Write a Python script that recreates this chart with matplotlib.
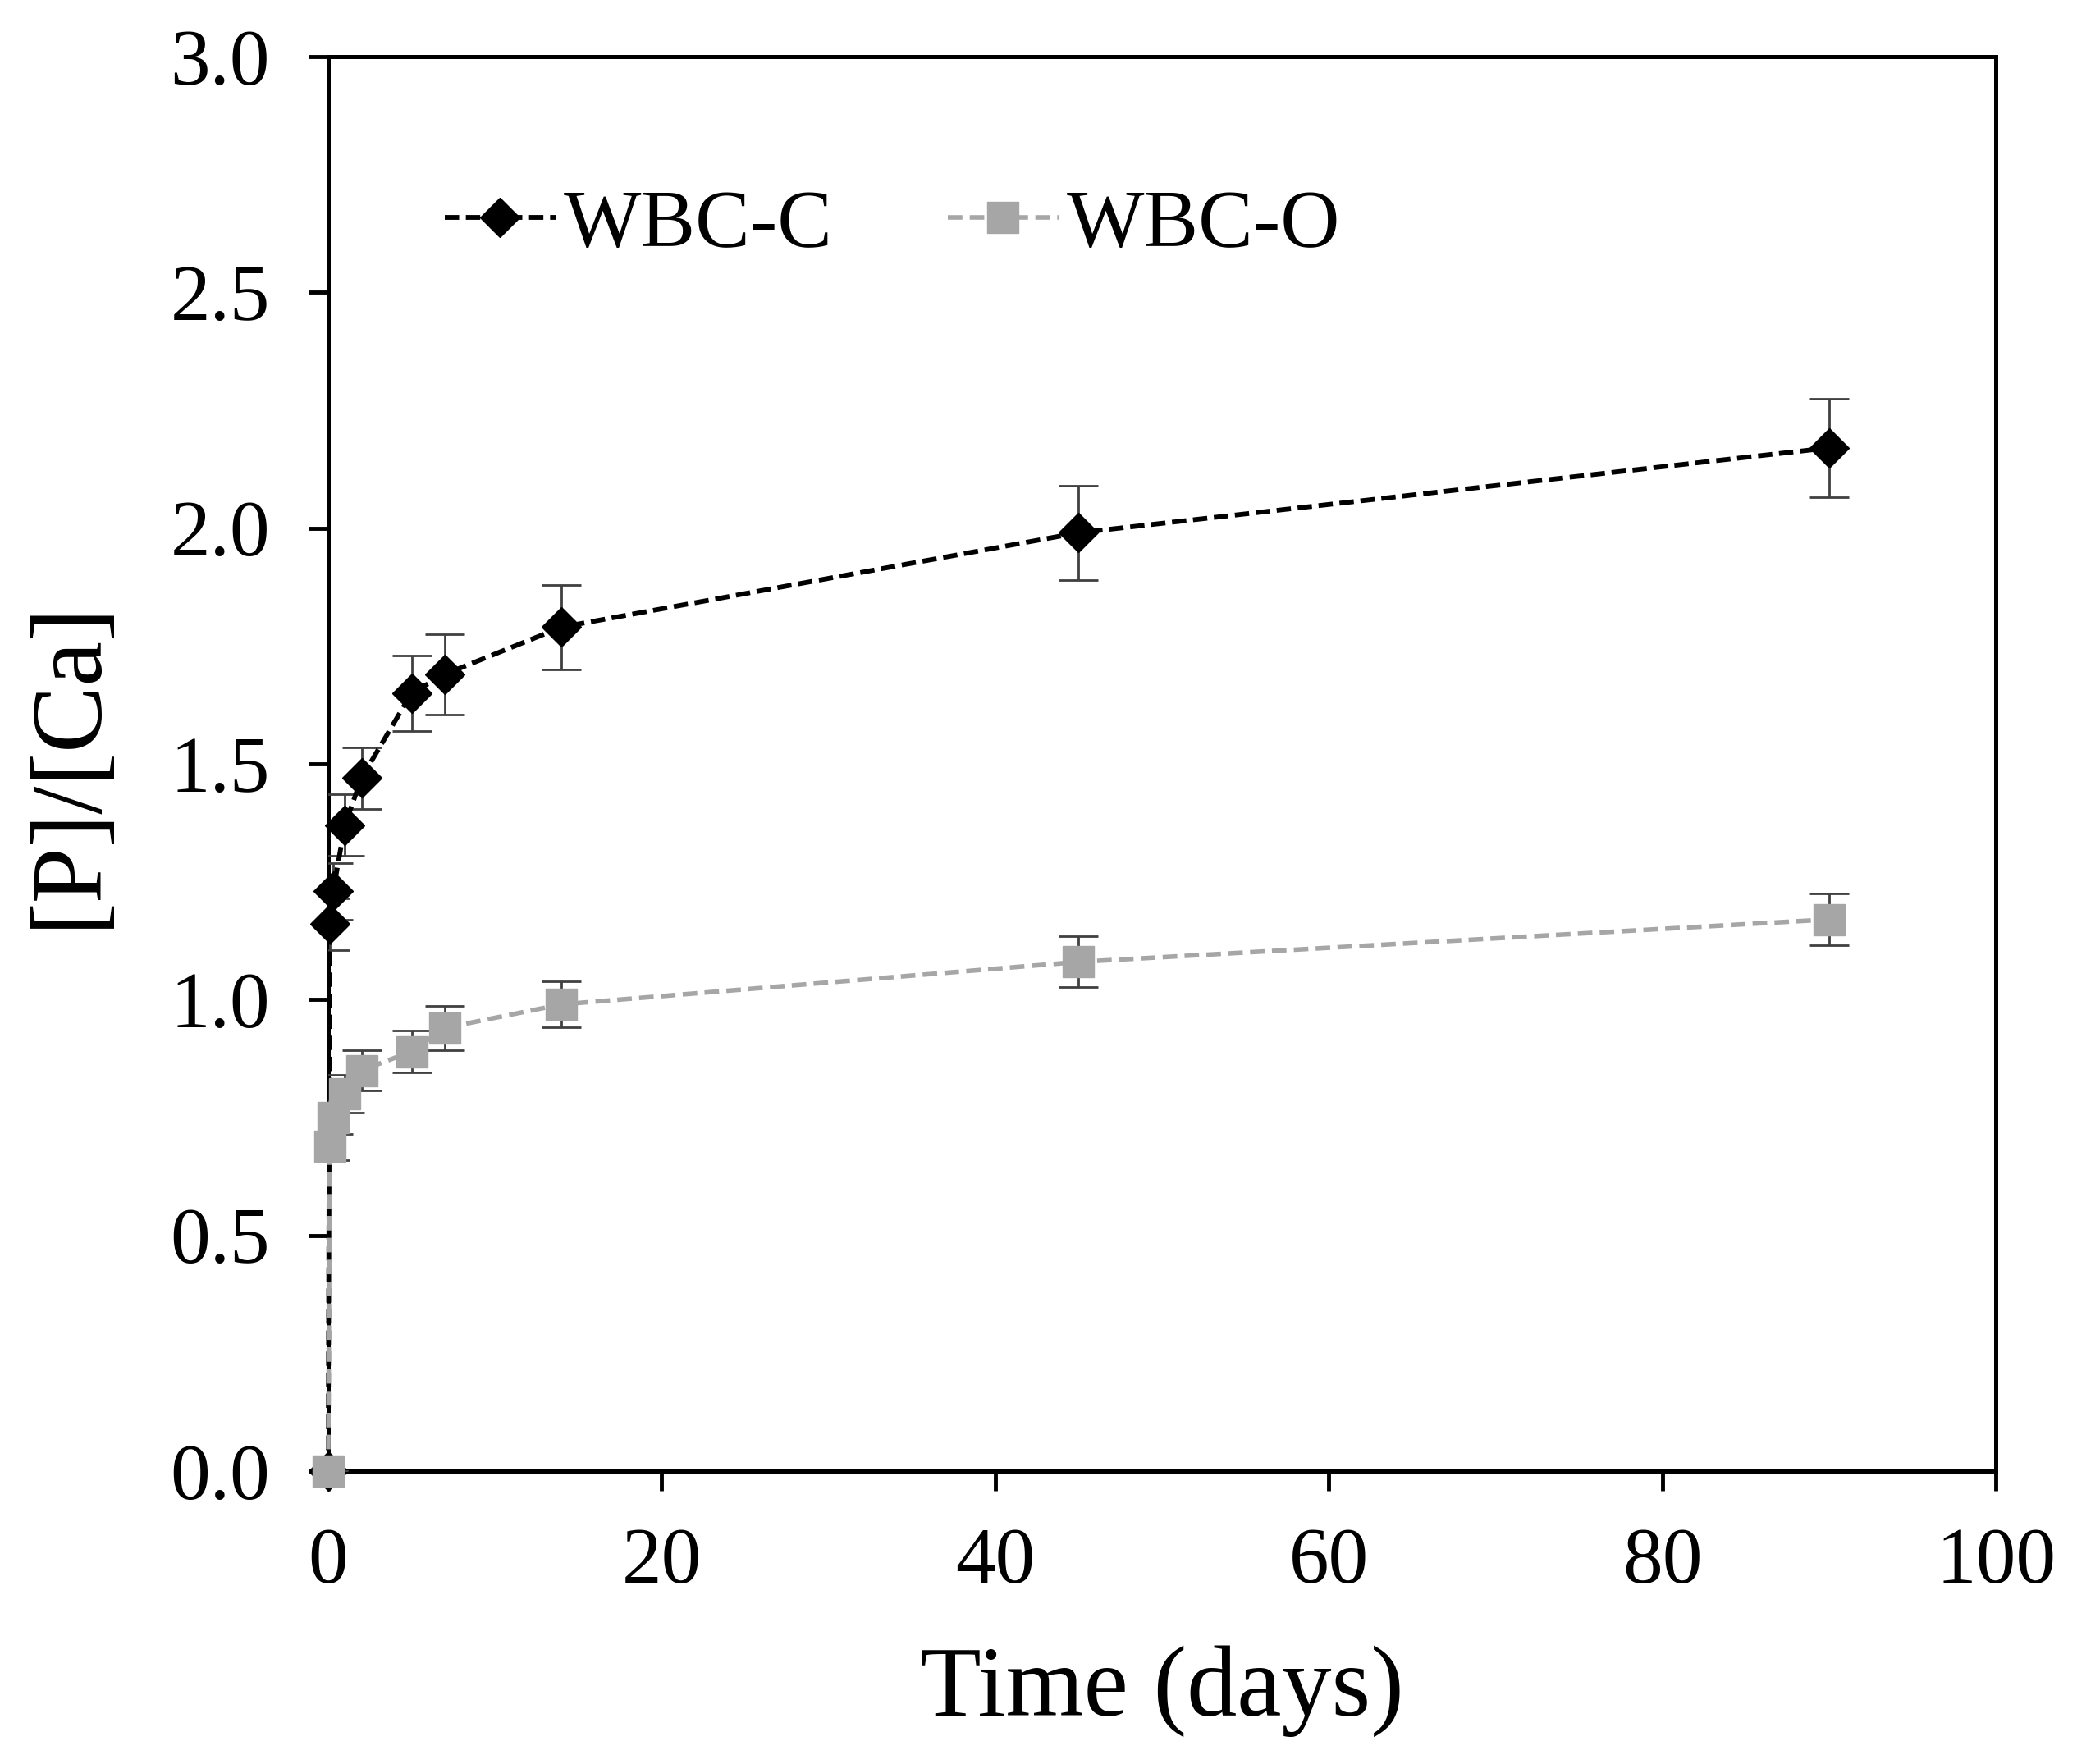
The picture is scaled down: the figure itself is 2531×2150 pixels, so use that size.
import matplotlib
matplotlib.use("Agg")
import matplotlib.pyplot as plt
from matplotlib.lines import Line2D
import numpy as np

# data
time_days = [0, 0.1, 0.3, 1, 2, 5, 7, 14, 45, 90]
wbc_c = [0.0, 1.16, 1.23, 1.37, 1.47, 1.65, 1.69, 1.79, 1.99, 2.17]
wbc_c_err = [0.0, 0.055, 0.06, 0.065, 0.065, 0.08, 0.085, 0.09, 0.10, 0.105]
wbc_o = [0.0, 0.69, 0.75, 0.80, 0.85, 0.89, 0.94, 0.99, 1.08, 1.17]
wbc_o_err = [0.0, 0.03, 0.035, 0.04, 0.043, 0.045, 0.047, 0.048, 0.054, 0.055]

x_ticks = [0, 20, 40, 60, 80, 100]
y_ticks = [0.0, 0.5, 1.0, 1.5, 2.0, 2.5, 3.0]

plt.rcParams['font.family'] = ['Liberation Serif', 'DejaVu Serif']

fig = plt.figure(figsize=(25.31, 21.5), dpi=100)
ax = fig.add_axes([0.158, 0.166, 0.803, 0.802])

c_style = dict(color='black', ls=(0, (3, 1.4)), lw=4.2, marker='D', markersize=24)
o_style = dict(color='#A6A6A6', ls=(0, (3.2, 1.6)), lw=4.0, marker='s', markersize=28)

c_bar = ax.errorbar(time_days, wbc_c, yerr=wbc_c_err, ecolor='#404040', elinewidth=2,
                    capsize=17, capthick=2, zorder=3, **c_style)
o_bar = ax.errorbar(time_days, wbc_o, yerr=wbc_o_err, ecolor='#404040', elinewidth=2,
                    capsize=17, capthick=2, zorder=4, **o_style)
for bar in (c_bar, o_bar):
    bar[0].set_clip_on(False)

ax.set_xlim(0, 100)
ax.set_ylim(0, 3.0)
ax.set_xticks(x_ticks)
ax.set_yticks(y_ticks)
ax.set_yticklabels([f"{v:.1f}" for v in y_ticks])
ax.tick_params(axis='both', direction='out', length=17, width=3.5, labelsize=70)
ax.tick_params(axis='y', pad=34)
ax.tick_params(axis='x', pad=32)
for s in ax.spines.values():
    s.set_linewidth(3.6)

ax.set_xlabel('Time (days)', fontsize=88, labelpad=40)
ax.set_ylabel('[P]/[Ca]', fontsize=88, labelpad=48)

handles = [Line2D([], [], **c_style), Line2D([], [], **o_style)]
ax.legend(handles, ['WBC-C', 'WBC-O'], loc='upper left', bbox_to_anchor=(0.05, 0.93),
          ncol=2, frameon=False, fontsize=72, handlelength=1.35, handletextpad=0.1,
          columnspacing=1.4, borderaxespad=0)

fig.savefig('out.png', dpi=100)
